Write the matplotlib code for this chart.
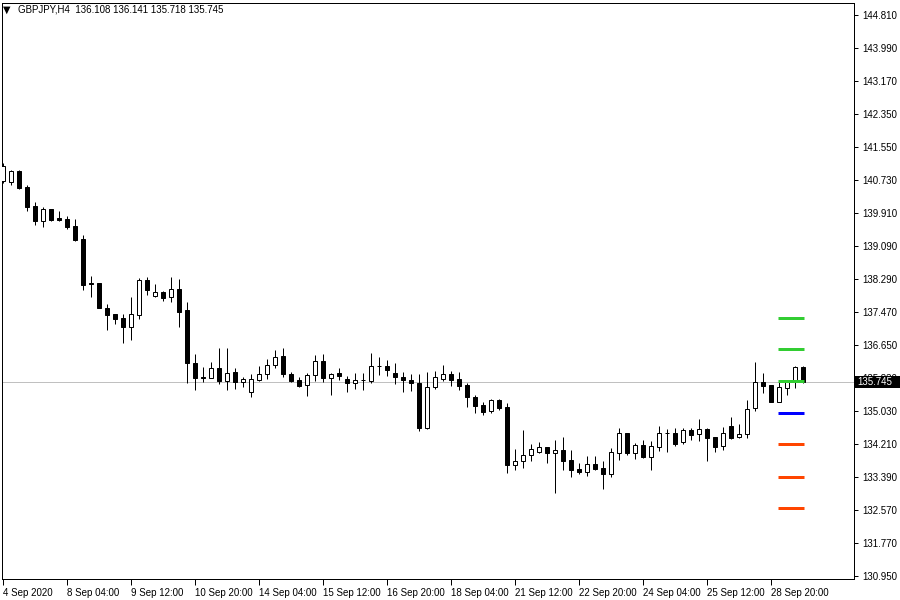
import matplotlib
matplotlib.use("Agg")
import matplotlib.pyplot as plt
import matplotlib.transforms as mtransforms
from matplotlib.patches import Rectangle
import numpy as np

symbol = "GBPJPY,H4"

# H4 bars, oldest first
opens = [140.709, 140.684, 140.956, 140.561, 140.091, 139.721, 140.017, 139.795, 139.770, 139.597,
         139.276, 138.189, 138.189, 137.571, 137.423, 137.324, 137.102, 137.398, 138.263, 137.868,
         137.966, 137.843, 138.041, 137.522, 136.212, 135.860, 135.842, 136.089, 135.768, 135.990,
         135.743, 135.496, 135.792, 135.941, 136.163, 136.385, 135.941, 135.792, 135.669, 135.916,
         136.262, 135.842, 135.965, 135.817, 135.718, 135.790, 135.768, 136.140, 136.138, 135.965,
         135.866, 135.792, 135.718, 134.606, 135.619, 135.817, 135.941, 135.817, 135.669, 135.372,
         135.175, 135.026, 135.298, 135.125, 133.692, 133.791, 133.939, 134.013, 134.137, 133.989,
         134.063, 133.816, 133.594, 133.519, 133.717, 133.618, 133.470, 133.989, 134.483, 133.989,
         134.186, 133.890, 134.137, 134.480, 134.483, 134.261, 134.557, 134.458, 134.582, 134.384,
         134.162, 134.656, 134.384, 134.458, 135.101, 135.743, 135.669, 135.249, 135.595, 135.743,
         136.108]
highs = [141.154, 140.981, 140.981, 140.610, 140.190, 140.066, 140.017, 139.968, 139.844, 139.770,
         139.375, 138.362, 138.189, 137.670, 137.423, 137.423, 137.843, 138.312, 138.337, 138.164,
         137.991, 138.337, 138.288, 137.719, 136.435, 136.114, 136.237, 136.583, 136.583, 136.089,
         135.866, 135.941, 136.138, 136.311, 136.534, 136.583, 135.990, 135.866, 135.965, 136.410,
         136.435, 135.965, 136.089, 135.891, 135.965, 135.965, 136.459, 136.361, 136.286, 136.212,
         135.990, 135.941, 135.941, 135.990, 136.015, 136.163, 136.015, 135.990, 135.718, 135.422,
         135.249, 135.323, 135.323, 135.224, 134.088, 134.557, 134.211, 134.261, 134.137, 134.310,
         134.384, 134.063, 133.742, 133.915, 133.915, 133.791, 134.112, 134.606, 134.483, 134.236,
         134.310, 134.285, 134.656, 134.582, 134.606, 134.606, 134.606, 134.829, 134.606, 134.384,
         134.631, 134.878, 134.705, 135.298, 136.237, 135.965, 135.669, 135.792, 135.792, 136.138,
         136.141]
lows = [140.659, 140.610, 140.511, 139.968, 139.622, 139.572, 139.721, 139.721, 139.523, 139.227,
        138.016, 137.843, 137.571, 137.028, 137.176, 136.706, 136.781, 137.299, 137.892, 137.843,
        137.744, 137.719, 137.102, 135.718, 135.545, 135.743, 135.842, 135.694, 135.545, 135.570,
        135.619, 135.372, 135.768, 135.817, 136.089, 135.866, 135.743, 135.619, 135.397, 135.768,
        135.743, 135.422, 135.792, 135.496, 135.570, 135.545, 135.718, 135.916, 135.891, 135.694,
        135.496, 135.521, 134.532, 134.582, 135.570, 135.768, 135.644, 135.545, 135.125, 134.977,
        134.928, 134.977, 135.051, 133.495, 133.569, 133.618, 133.791, 133.989, 133.742, 133.000,
        133.569, 133.396, 133.470, 133.421, 133.569, 133.099, 133.396, 133.816, 133.939, 133.841,
        133.865, 133.569, 134.038, 134.013, 134.162, 134.211, 134.310, 134.285, 133.791, 134.013,
        134.063, 134.335, 134.359, 134.359, 135.026, 135.471, 135.249, 135.249, 135.422, 135.595,
        135.718]
closes = [141.079, 140.956, 140.536, 140.066, 139.721, 140.017, 139.745, 139.745, 139.572, 139.251,
          138.139, 138.164, 137.571, 137.398, 137.299, 137.102, 137.423, 138.263, 138.016, 137.966,
          137.818, 138.041, 137.472, 136.212, 135.842, 135.850, 136.089, 135.768, 135.965, 135.743,
          135.817, 135.817, 135.941, 136.163, 136.361, 135.941, 135.768, 135.644, 135.916, 136.262,
          135.842, 135.941, 135.891, 135.718, 135.792, 135.795, 136.138, 136.135, 136.039, 135.866,
          135.792, 135.718, 134.606, 135.619, 135.866, 135.941, 135.792, 135.644, 135.372, 135.150,
          135.002, 135.298, 135.101, 133.692, 133.791, 133.939, 134.088, 134.137, 133.989, 134.063,
          133.791, 133.569, 133.519, 133.717, 133.594, 133.470, 134.013, 134.483, 133.989, 134.186,
          133.890, 134.162, 134.483, 134.485, 134.211, 134.557, 134.433, 134.582, 134.359, 134.137,
          134.483, 134.359, 134.458, 135.076, 135.743, 135.644, 135.249, 135.619, 135.743, 136.114,
          135.745]

time_labels = ["4 Sep 2020", "8 Sep 04:00", "9 Sep 12:00", "10 Sep 20:00", "14 Sep 04:00",
               "15 Sep 12:00", "16 Sep 20:00", "18 Sep 04:00", "21 Sep 12:00", "22 Sep 20:00",
               "24 Sep 04:00", "25 Sep 12:00", "28 Sep 20:00"]
label_every = 8

price_labels = ["144.810", "143.990", "143.170", "142.350", "141.550", "140.730", "139.910",
                "139.090", "138.290", "137.470", "136.650", "135.830", "135.030", "134.210",
                "133.390", "132.570", "131.770", "130.950"]

# pivot style levels drawn on the right
levels = [137.32, 136.55, 135.78, 134.97, 134.20, 133.39, 132.62]
level_colors = ["#32CD32", "#32CD32", "#32CD32", "#0000FF", "#FF4500", "#FF4500", "#FF4500"]
level_from, level_to = 96.9, 100.1

W, H = 900, 600
fig = plt.figure(figsize=(9, 6), dpi=100)
ax = fig.add_axes([2 / W, 20.7 / H, 852 / W, 576.6 / H])

px = 72.0 / 100  # one pixel in points
n = len(opens)
ax.set_xlim(-0.125, -0.125 + 852 / 8)
ptop, pbot = float(price_labels[0]), float(price_labels[-1])
ppx = (ptop - pbot) / 561.0
ax.set_ylim(pbot - 3.3 * ppx, ptop + 12.3 * ppx)

# last price line
ax.axhline(closes[-1], color="#C0C0C0", lw=px, zorder=0.5)

# candles
body_w = 0.55
for i in range(n):
    o, h, l, c = opens[i], highs[i], lows[i], closes[i]
    ax.vlines(i, l, h, color="black", lw=px, zorder=2)
    bottom = min(o, c)
    height = abs(c - o)
    face = "white" if c >= o else "black"
    ax.add_patch(Rectangle((i - body_w / 2, bottom), body_w, height,
                           facecolor=face, edgecolor="black", lw=px, zorder=3))

# levels
for lv, col in zip(levels, level_colors):
    ax.hlines(lv, level_from, level_to, color=col, lw=3 * px, zorder=4)

# axes look
for s in ax.spines.values():
    s.set_color("black")
    s.set_linewidth(px)

ax.yaxis.tick_right()
ax.set_yticks(np.linspace(ptop, pbot, len(price_labels)))
ax.set_yticklabels(price_labels)
ax.set_xticks(np.arange(len(time_labels)) * label_every)
ax.set_xticklabels(time_labels, ha="left")
ax.tick_params(axis="y", length=3, width=px, pad=3, labelsize=7, labelcolor="black")
ax.tick_params(axis="x", length=4, width=px, pad=2, labelsize=7, labelcolor="black")
for lab in ax.get_xticklabels() + ax.get_yticklabels():
    lab.set_family("Liberation Sans")

# current price box, covering the axis label behind it
trans = mtransforms.blended_transform_factory(ax.transAxes, ax.transData)
box = Rectangle(((855 - 2) / 852, closes[-1] - 5.8 * ppx), 46 / 852, 11.5 * ppx,
                transform=trans, facecolor="black", edgecolor="none",
                zorder=10, clip_on=False)
ax.add_patch(box)
ax.text((857 - 2) / 852, closes[-1] - 0.4 * ppx, "%.3f" % closes[-1], transform=trans,
        ha="left", va="center", color="white", fontsize=7, family="Liberation Sans",
        zorder=11, clip_on=False)

# header
fig.text(3 / W, 1 - 9.5 / H, "\u25bc", fontsize=7, va="center", ha="left", color="black")
fig.text(17.5 / W, 1 - 10 / H,
         "%s  %.3f %.3f %.3f %.3f" % (symbol, opens[-1], highs[-1], lows[-1], closes[-1]),
         fontsize=7, va="center", ha="left", color="black", family="Liberation Sans")

fig.savefig("out.png", dpi=100, facecolor="white")
plt.close(fig)
